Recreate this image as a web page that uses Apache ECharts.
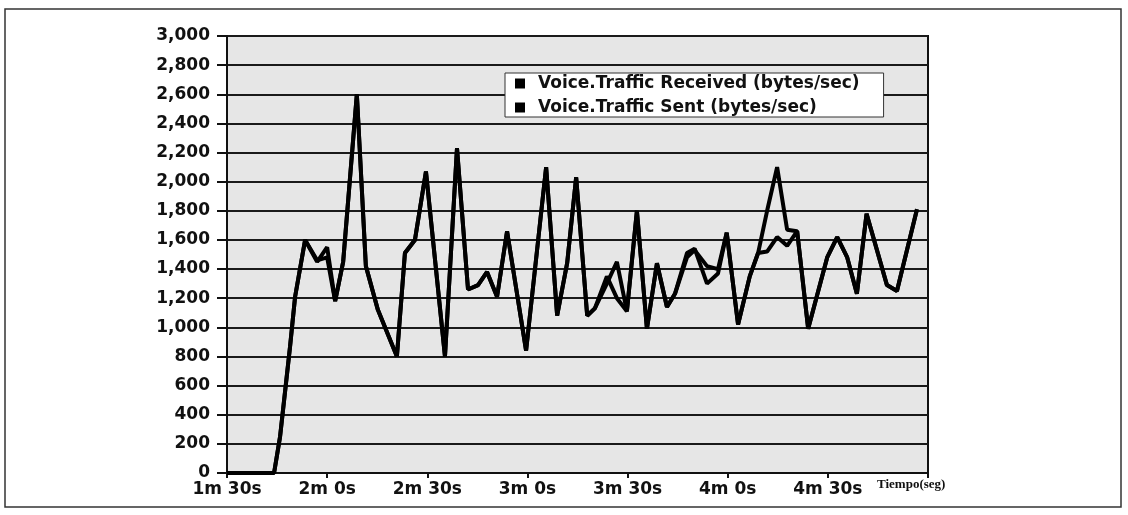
<!DOCTYPE html>
<html>
<head>
<meta charset="utf-8">
<title>Voice Traffic</title>
<script src="https://cdn.jsdelivr.net/npm/echarts@6/dist/echarts.min.js"></script>
<style>
  html, body { margin: 0; padding: 0; background: #fff; }
  #chart { width: 1128px; height: 515px; }
</style>
</head>
<body>
<div id="chart"></div>
<script>
// sample times in seconds (1m 30s = 90)
var times = [90, 104.1, 105.9, 108.9, 110.4, 113.4, 117.0, 120.0, 122.4, 124.8,
  128.9, 131.6, 135.2, 140.9, 143.3, 146.3, 149.6, 155.3, 158.9, 162.2,
  165.2, 167.9, 170.9, 173.9, 179.6, 185.6, 188.9, 191.9, 194.6, 197.9,
  200.2, 203.8, 206.8, 209.8, 212.8, 215.8, 218.8, 221.8, 224.2, 227.8,
  230.1, 233.8, 237.1, 239.7, 243.1, 246.6, 249.1, 251.8, 254.8, 257.8,
  260.8, 264.1, 269.8, 272.8, 275.8, 278.7, 281.6, 287.7, 290.7, 296.7];

var received = [0, 0, 250, 870, 1210, 1600, 1450, 1550, 1180, 1450,
  2600, 1420, 1120, 800, 1510, 1600, 2070, 800, 2230, 1260,
  1290, 1380, 1210, 1660, 840, 2100, 1080, 1440, 2030, 1080,
  1130, 1300, 1450, 1110, 1800, 990, 1440, 1140, 1230, 1510,
  1540, 1300, 1370, 1650, 1020, 1350, 1510, 1800, 2100, 1670,
  1660, 990, 1480, 1620, 1480, 1230, 1780, 1290, 1250, 1810];

var sent = [0, 0, 250, 870, 1210, 1600, 1460, 1480, 1180, 1450,
  2600, 1420, 1120, 800, 1510, 1600, 2070, 800, 2230, 1260,
  1290, 1380, 1210, 1660, 840, 2100, 1080, 1440, 2030, 1080,
  1130, 1350, 1200, 1110, 1800, 990, 1440, 1140, 1230, 1480,
  1530, 1420, 1400, 1650, 1020, 1350, 1510, 1520, 1620, 1560,
  1660, 990, 1480, 1620, 1480, 1230, 1780, 1290, 1250, 1810];

var seriesNames = ["Voice.Traffic Received (bytes/sec)", "Voice.Traffic Sent (bytes/sec)"];
var xTitle = "Tiempo(seg)";

function pairs(vals) {
  return times.map(function (t, i) { return [t, vals[i]]; });
}

var labelFont = { fontFamily: "DejaVu Sans", fontSize: 17, fontWeight: "bold", color: "#111" };

var myChart = echarts.init(document.getElementById("chart"));
var option = {
  backgroundColor: "#fff",
  animation: false,
  graphic: [
    {
      type: "rect",
      shape: { x: 5, y: 9, width: 1116, height: 498 },
      style: { fill: "none", stroke: "#333", lineWidth: 1.5 }
    }
  ],
  grid: {
    left: 227,
    top: 36,
    right: 200,
    bottom: 42,
    show: true,
    backgroundColor: "#e6e6e6",
    borderColor: "#111",
    borderWidth: 2
  },
  legend: {
    orient: "vertical",
    left: 505,
    top: 73,
    padding: [2, 24, 1, 10],
    itemGap: 7,
    itemWidth: 10,
    itemHeight: 10,
    icon: "rect",
    backgroundColor: "#fff",
    borderColor: "#333",
    borderWidth: 1,
    borderRadius: 0,
    textStyle: {
      fontFamily: "DejaVu Sans",
      fontSize: 17,
      fontWeight: "bold",
      color: "#111",
      padding: [0, 0, 0, 8]
    },
    data: seriesNames
  },
  xAxis: {
    type: "value",
    min: 90,
    max: 300,
    interval: 30,
    name: xTitle,
    nameLocation: "end",
    nameGap: -51,
    nameTextStyle: {
      fontFamily: "Liberation Serif",
      fontSize: 13,
      fontWeight: "bold",
      color: "#111",
      verticalAlign: "top",
      align: "left",
      padding: [5, 0, 0, 0]
    },
    axisLine: { show: true, lineStyle: { color: "#111", width: 2 } },
    axisTick: { show: true, length: 5, lineStyle: { color: "#111", width: 2 } },
    axisLabel: Object.assign({
      margin: 8,
      formatter: function (v) {
        if (v >= 300) return "";
        return Math.floor(v / 60) + "m " + (v % 60) + "s";
      }
    }, labelFont),
    splitLine: { show: false }
  },
  yAxis: {
    type: "value",
    min: 0,
    max: 3000,
    interval: 200,
    axisLine: { show: true, lineStyle: { color: "#111", width: 2 } },
    axisTick: { show: true, length: 10, lineStyle: { color: "#111", width: 2 } },
    axisLabel: Object.assign({
      margin: 17,
      formatter: function (v) { return v.toLocaleString("en-US"); }
    }, labelFont),
    splitLine: { show: true, lineStyle: { color: "#1a1a1a", width: 2 } }
  },
  series: [
    {
      name: seriesNames[0],
      type: "line",
      data: pairs(received),
      showSymbol: false,
      color: "#000",
      lineStyle: { color: "#000", width: 4 },
      z: 3
    },
    {
      name: seriesNames[1],
      type: "line",
      data: pairs(sent),
      showSymbol: false,
      color: "#000",
      lineStyle: { color: "#000", width: 4 },
      z: 3
    }
  ]
};
myChart.setOption(option);
</script>
</body>
</html>
